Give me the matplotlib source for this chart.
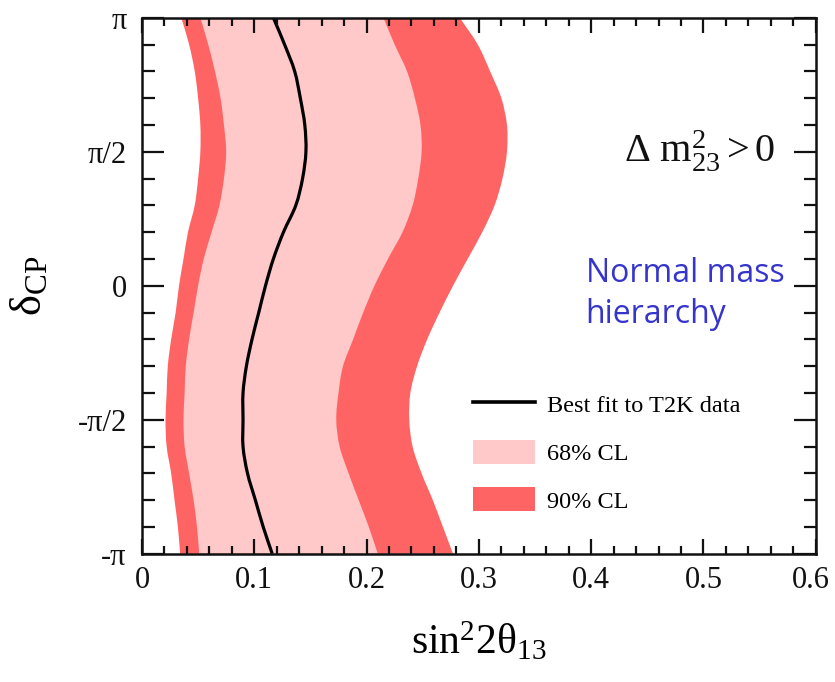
import numpy as np
import matplotlib
matplotlib.use("Agg")
import matplotlib.pyplot as plt
from matplotlib.lines import Line2D
from matplotlib.patches import Patch, PathPatch
from matplotlib.path import Path
from matplotlib.transforms import ScaledTranslation

plt.rcParams["font.family"] = ["Liberation Serif", "DejaVu Serif"]
plt.rcParams["mathtext.fontset"] = "custom"
plt.rcParams["mathtext.rm"] = "Liberation Serif"
plt.rcParams["mathtext.it"] = "Liberation Serif:italic"
plt.rcParams["mathtext.default"] = "rm"

# delta_CP in units of pi
delta_over_pi = [-1.0, -0.9, -0.8, -0.7, -0.6, -0.5, -0.4, -0.3, -0.2, -0.1, 0.0,
                 0.1, 0.2, 0.3, 0.4, 0.5, 0.6, 0.7, 0.8, 0.9, 1.0]

# sin^2(2 theta13) boundaries of the allowed regions
cl90_low = [0.034, 0.032, 0.029, 0.026, 0.022, 0.021, 0.022, 0.023, 0.026, 0.030, 0.033,
            0.037, 0.041, 0.047, 0.050, 0.052, 0.052, 0.050, 0.047, 0.042, 0.035]
cl68_low = [0.051, 0.049, 0.046, 0.042, 0.038, 0.037, 0.038, 0.039, 0.042, 0.046, 0.050,
            0.055, 0.062, 0.069, 0.073, 0.075, 0.073, 0.070, 0.065, 0.059, 0.052]
best_fit = [0.116, 0.108, 0.101, 0.094, 0.090, 0.090, 0.090, 0.093, 0.098, 0.104, 0.110,
            0.117, 0.126, 0.137, 0.143, 0.146, 0.145, 0.141, 0.136, 0.127, 0.117]
cl68_high = [0.210, 0.202, 0.193, 0.184, 0.176, 0.173, 0.175, 0.179, 0.188, 0.197, 0.207,
             0.219, 0.232, 0.241, 0.246, 0.249, 0.248, 0.243, 0.236, 0.225, 0.215]
cl90_high = [0.277, 0.268, 0.259, 0.249, 0.241, 0.238, 0.239, 0.245, 0.254, 0.265, 0.277,
             0.290, 0.303, 0.314, 0.321, 0.325, 0.325, 0.320, 0.310, 0.299, 0.283]

x_ticks = [0, 0.1, 0.2, 0.3, 0.4, 0.5, 0.6]
x_ticklabels = ["0", "0.1", "0.2", "0.3", "0.4", "0.5", "0.6"]
y_ticks_over_pi = [-1, -0.5, 0, 0.5, 1]
y_ticklabels = ["-π", "-π/2", "0", "π/2", "π"]

c68 = "#ffc8c9"
c90 = "#ff6464"

delta = np.array(delta_over_pi) * np.pi


def bezier_through(xs, ys):
    """Cubic Bezier segments passing through every given point."""
    p = np.column_stack([xs, ys]).astype(float)
    t = np.gradient(p, axis=0)
    verts = [p[0]]
    codes = [Path.MOVETO]
    for i in range(len(p) - 1):
        verts += [p[i] + t[i] / 3, p[i + 1] - t[i + 1] / 3, p[i + 1]]
        codes += [Path.CURVE4] * 3
    return verts, codes


def band_path(low, high, y):
    vl, cl = bezier_through(low, y)
    vr, cr = bezier_through(high[::-1], y[::-1])
    verts = vl + vr + [vl[0]]
    codes = cl + [Path.LINETO] + cr[1:] + [Path.CLOSEPOLY]
    return Path(verts, codes)


fig = plt.figure(figsize=(8.35, 6.82), dpi=100)
ax = fig.add_axes([0.170, 0.188, 0.807, 0.786])

ax.add_patch(PathPatch(band_path(np.array(cl90_low), np.array(cl90_high), delta),
                       facecolor=c90, lw=0))
ax.add_patch(PathPatch(band_path(np.array(cl68_low), np.array(cl68_high), delta),
                       facecolor=c68, lw=0))
bv, bc = bezier_through(best_fit, delta)
ax.add_patch(PathPatch(Path(bv, bc), fill=False, edgecolor="black", lw=2.3))

ax.set_xlim(0, 0.6)
ax.set_ylim(-np.pi, np.pi)

ax.set_xticks(x_ticks)
ax.set_xticklabels(x_ticklabels)
ax.set_xticks(np.arange(0, 0.6001, 0.02), minor=True)
ax.set_yticks(np.array(y_ticks_over_pi) * np.pi)
ax.set_yticklabels(y_ticklabels)
ax.set_yticks(np.arange(-1, 1.0001, 0.1) * np.pi, minor=True)

ax.tick_params(which="both", direction="in", top=True, right=True, width=1.6,
               colors="#111111")
ax.tick_params(axis="x", which="major", length=11, pad=9, labelsize=22)
ax.tick_params(axis="x", which="minor", length=6)
ax.tick_params(axis="y", which="major", length=16, pad=11, labelsize=22)
ax.tick_params(axis="y", which="minor", length=9)
for s in ax.spines.values():
    s.set_linewidth(1.8)
    s.set_color("#111111")

# nudge the last x label a little inward so it stays on the canvas
last_label = ax.xaxis.get_major_ticks()[-1].label1
last_label.set_transform(last_label.get_transform()
                         + ScaledTranslation(-5 / 100, 0, fig.dpi_scale_trans))

ax.set_xlabel(r"$\mathregular{sin^{2}2\theta_{13}}$", fontsize=30, labelpad=18)
ax.set_ylabel(r"$\mathregular{\delta_{CP}}$", fontsize=32, labelpad=20)

ax.text(0.5635, 0.5 * np.pi, r"$\mathregular{\Delta\ m^{2}_{23} > 0}$", fontsize=29,
        ha="right", va="center", color="#111111")

ax.text(0.395, -0.03 * np.pi, "Normal mass\nhierarchy", fontsize=23,
        family=["Open Sans", "DejaVu Sans"], color="#3535cc", ha="left", va="center",
        linespacing=1.3)

handles = [Line2D([], [], color="black", lw=2.6),
           Patch(facecolor=c68, edgecolor="none"),
           Patch(facecolor=c90, edgecolor="none")]
labels = ["Best fit to T2K data", "68% CL", "90% CL"]
ax.legend(handles, labels, loc="upper left", bbox_to_anchor=(0.491, 0.302),
          frameon=False, fontsize=17.5, handlelength=2.55, handleheight=1.15,
          handletextpad=0.5, labelspacing=0.92, borderpad=0, borderaxespad=0)

fig.savefig("out.png", dpi=100)
